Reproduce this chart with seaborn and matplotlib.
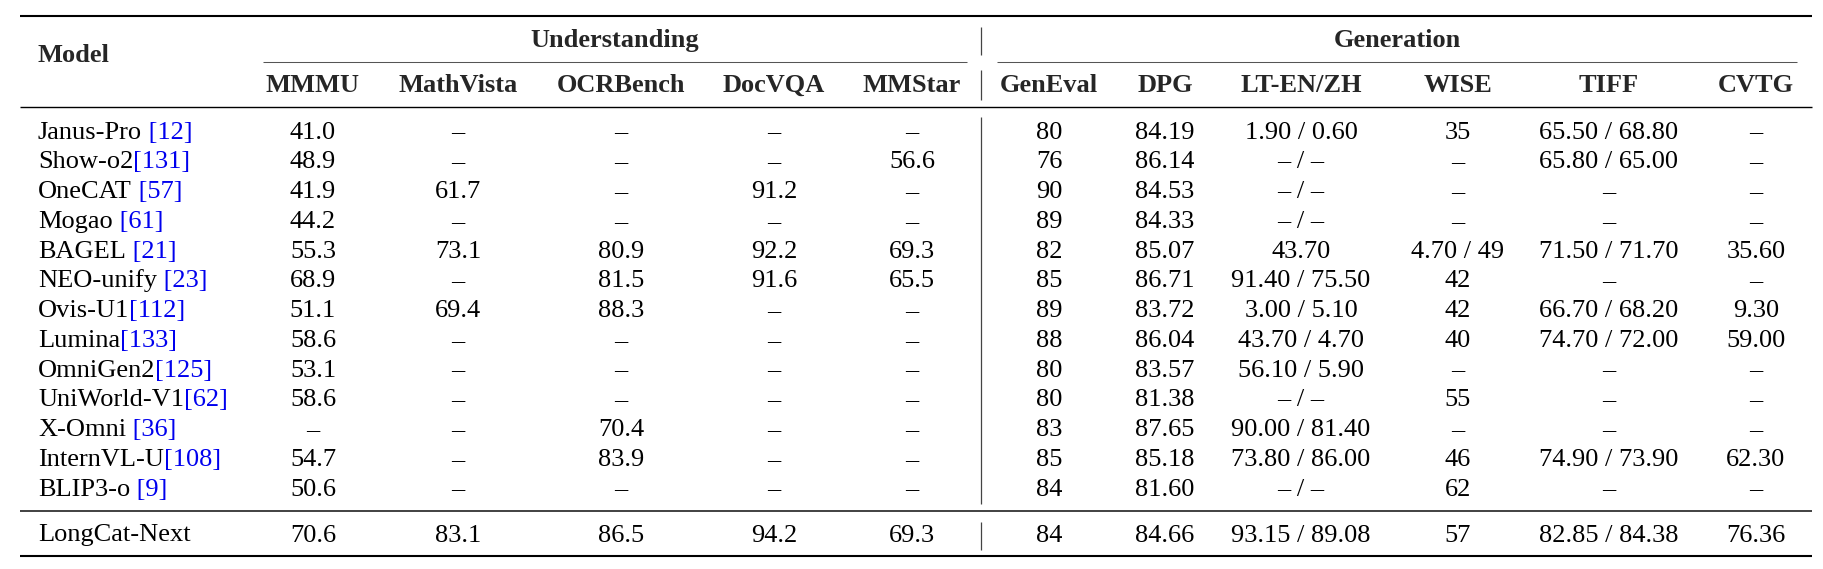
import matplotlib
matplotlib.use("Agg")
import matplotlib.pyplot as plt
import seaborn as sns

# ---------------- data ----------------
models = ["Janus-Pro", "Show-o2", "OneCAT", "Mogao", "BAGEL", "NEO-unify", "Ovis-U1",
          "Lumina", "OmniGen2", "UniWorld-V1", "X-Omni", "InternVL-U", "BLIP3-o",
          "LongCat-Next"]
cites = [" [12]", "[131]", " [57]", " [61]", " [21]", " [23]", "[112]",
         "[133]", "[125]", "[62]", " [36]", "[108]", " [9]", ""]

groups = ["Understanding", "Generation"]
und_cols = ["MMMU", "MathVista", "OCRBench", "DocVQA", "MMStar"]
gen_cols = ["GenEval", "DPG", "LT-EN/ZH", "WISE", "TIFF", "CVTG"]

D = "–"
mmmu = ["41.0", "48.9", "41.9", "44.2", "55.3", "68.9", "51.1", "58.6", "53.1", "58.6", D, "54.7", "50.6", "70.6"]
mathvista = [D, D, "61.7", D, "73.1", D, "69.4", D, D, D, D, D, D, "83.1"]
ocrbench = [D, D, D, D, "80.9", "81.5", "88.3", D, D, D, "70.4", "83.9", D, "86.5"]
docvqa = [D, D, "91.2", D, "92.2", "91.6", D, D, D, D, D, D, D, "94.2"]
mmstar = [D, "56.6", D, D, "69.3", "65.5", D, D, D, D, D, D, D, "69.3"]
geneval = ["80", "76", "90", "89", "82", "85", "89", "88", "80", "80", "83", "85", "84", "84"]
dpg = ["84.19", "86.14", "84.53", "84.33", "85.07", "86.71", "83.72", "86.04", "83.57", "81.38", "87.65", "85.18", "81.60", "84.66"]
lt_en_zh = ["1.90 / 0.60", "– / –", "– / –", "– / –", "43.70", "91.40 / 75.50", "3.00 / 5.10",
            "43.70 / 4.70", "56.10 / 5.90", "– / –", "90.00 / 81.40", "73.80 / 86.00", "– / –", "93.15 / 89.08"]
wise = ["35", D, D, D, "4.70 / 49", "42", "42", "40", D, "55", D, "46", "62", "57"]
tiff = ["65.50 / 68.80", "65.80 / 65.00", D, D, "71.50 / 71.70", D, "66.70 / 68.20",
        "74.70 / 72.00", D, D, D, "74.90 / 73.90", D, "82.85 / 84.38"]
cvtg = [D, D, D, D, "35.60", D, "9.30", "59.00", D, D, D, "62.30", D, "76.36"]

columns = [mmmu, mathvista, ocrbench, docvqa, mmstar, geneval, dpg, lt_en_zh, wise, tiff, cvtg]

# ---------------- style ----------------
sns.set_theme(style="white")
plt.rcParams["font.family"] = ["Liberation Serif", "DejaVu Serif"]
FS = 19

W, H = 1824, 569
fig = plt.figure(figsize=(W / 100, H / 100), dpi=100)
ax = fig.add_axes([0, 0, 1, 1])
ax.set_xlim(0, W)
ax.set_ylim(H, 0)
ax.axis("off")

# layout (pixel positions)
col_x = [313, 458, 621, 774, 912, 1049, 1165, 1301, 1458, 1609, 1756]
model_x = 38
left, right = 20, 1812
sep_x = 981
row0, row_step = 138.5, 29.75
last_base = 541.5

# rules
ax.hlines(16, left, right, color="black", lw=1.5)
ax.hlines(107, left, right, color="black", lw=1.0)
ax.hlines(511, left, right, color="#333333", lw=1.3)
ax.hlines(556, left, right, color="black", lw=1.5)
ax.hlines(62, 263, 967, color="#555555", lw=0.75)
ax.hlines(62, 997, 1797, color="#555555", lw=0.75)
for y0, y1 in [(27, 55), (70, 100), (117, 504), (522, 550)]:
    ax.vlines(sep_x, y0, y1, color="#444444", lw=0.9)

# headers
ax.text(model_x, 61.7, "Model", fontsize=FS, fontweight="bold", ha="left", va="baseline")
ax.text((263 + 967) / 2, 46.7, groups[0], fontsize=FS, fontweight="bold", ha="center", va="baseline")
ax.text((997 + 1797) / 2, 46.7, groups[1], fontsize=FS, fontweight="bold", ha="center", va="baseline")
for x, name in zip(col_x, und_cols + gen_cols):
    ax.text(x, 91.7, name, fontsize=FS, fontweight="bold", ha="center", va="baseline")

# body
renderer = fig.canvas.get_renderer()
n = len(models)
for i in range(n):
    base = last_base if i == n - 1 else row0 + i * row_step
    t = ax.text(model_x, base, models[i], fontsize=FS, ha="left", va="baseline", color="black")
    if cites[i]:
        w = t.get_window_extent(renderer=renderer).width
        ax.text(model_x + w, base, cites[i], fontsize=FS, ha="left", va="baseline", color="#0000ee")
    for x, col in zip(col_x, columns):
        ax.text(x, base, col[i], fontsize=FS, ha="center", va="baseline", color="black")

fig.savefig("out.png", dpi=100, facecolor="white")
